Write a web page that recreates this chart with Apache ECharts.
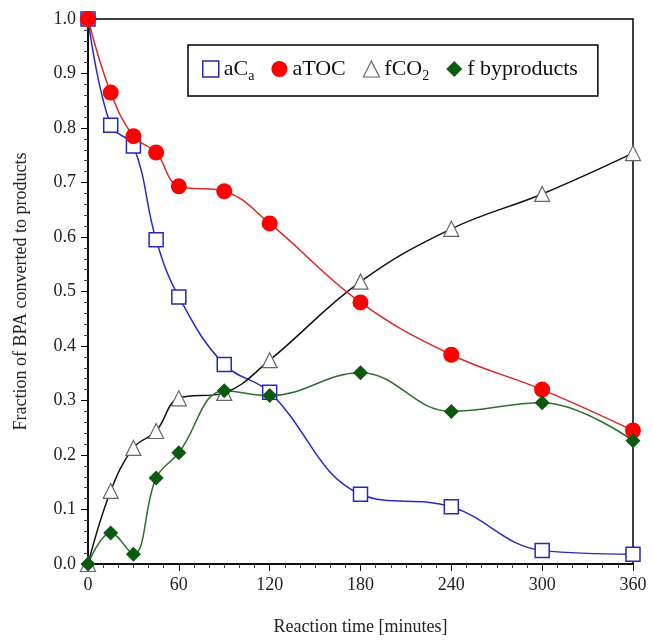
<!DOCTYPE html>
<html>
<head>
<meta charset="utf-8">
<script src="https://cdn.jsdelivr.net/npm/echarts@6/dist/echarts.min.js"></script>
<style>
  html, body { margin: 0; padding: 0; background: #fff; }
  #chart { width: 653px; height: 641px; }
</style>
</head>
<body>
<div id="chart"></div>
<script>
// reaction time, minutes
var times = [0, 15, 30, 45, 60, 90, 120, 180, 240, 300, 360];
var aCa = [1.0, 0.805, 0.767, 0.595, 0.49, 0.366, 0.315, 0.128, 0.105, 0.025, 0.018];
var aTOC = [1.0, 0.865, 0.785, 0.755, 0.693, 0.684, 0.625, 0.48, 0.384, 0.32, 0.245];
var fCO2 = [0.0, 0.134, 0.213, 0.244, 0.304, 0.314, 0.374, 0.518, 0.615, 0.679, 0.754];
var fByproducts = [0.0, 0.057, 0.018, 0.158, 0.204, 0.318, 0.309, 0.351, 0.28, 0.296, 0.226];

function pairs(ys) {
  return times.map(function (t, i) { return [t, ys[i]]; });
}

var font = '"Liberation Serif", "DejaVu Serif", serif';

var chart = echarts.init(document.getElementById('chart'));

chart.setOption({
  backgroundColor: '#fff',
  animation: false,
  grid: {
    left: 88,
    right: 20,
    top: 19,
    bottom: 74,
    show: true,
    borderColor: '#000',
    borderWidth: 1.5
  },
  legend: {
    left: 188,
    top: 45,
    padding: [13, 20, 13, 14],
    itemGap: 17,
    itemWidth: 16,
    itemHeight: 16,
    borderColor: '#000',
    borderWidth: 1.5,
    backgroundColor: '#fff',
    textStyle: {
      fontFamily: font,
      fontSize: 22,
      color: '#111',
      rich: {
        n: { fontFamily: font, fontSize: 22, color: '#111' },
        s: { fontFamily: font, fontSize: 14, color: '#111', verticalAlign: 'bottom', padding: [14, 0, 0, 0] }
      }
    },
    formatter: function (name) {
      if (name === 'aCa') return '{n|aC}{s|a}';
      if (name === 'fCO2') return '{n|fCO}{s|2}';
      return '{n|' + name + '}';
    },
    data: [
      { name: 'aCa', icon: 'rect', itemStyle: { color: '#fff', borderColor: '#2828b8', borderWidth: 1.5 } },
      { name: 'aTOC', icon: 'circle', itemStyle: { color: '#ff0000' } },
      { name: 'fCO2', icon: 'triangle', itemStyle: { color: '#fff', borderColor: '#666', borderWidth: 1.2 } },
      { name: 'f byproducts', icon: 'diamond', itemStyle: { color: '#0b5a10' } }
    ]
  },
  xAxis: {
    type: 'value',
    min: 0,
    max: 360,
    interval: 60,
    minorTick: { show: true, splitNumber: 6, length: 4, lineStyle: { color: '#444' } },
    axisLine: { onZero: false, lineStyle: { color: '#000', width: 1.5 } },
    axisTick: { show: true, length: 7, lineStyle: { color: '#000' } },
    axisLabel: { fontFamily: font, fontSize: 18, color: '#222', margin: 12 },
    splitLine: { show: false },
    name: 'Reaction time [minutes]',
    nameLocation: 'middle',
    nameGap: 54,
    nameTextStyle: { fontFamily: font, fontSize: 18, color: '#222' }
  },
  yAxis: {
    type: 'value',
    min: 0,
    max: 1,
    interval: 0.1,
    minorTick: { show: true, splitNumber: 5, length: 4, lineStyle: { color: '#444' } },
    axisLine: { onZero: false, lineStyle: { color: '#000', width: 1.5 } },
    axisTick: { show: true, length: 7, lineStyle: { color: '#000' } },
    axisLabel: {
      fontFamily: font, fontSize: 18, color: '#222', margin: 12,
      formatter: function (v) { return v.toFixed(1); }
    },
    splitLine: { show: false },
    name: 'Fraction of BPA converted to products',
    nameLocation: 'middle',
    nameGap: 58,
    nameTextStyle: { fontFamily: font, fontSize: 18, color: '#222' }
  },
  series: [
    {
      name: 'aCa',
      type: 'line',
      data: pairs(aCa),
      smooth: 0.4,
      symbol: 'rect',
      symbolSize: 14,
      lineStyle: { color: '#2a2ac0', width: 1.5 },
      itemStyle: { color: '#fff', borderColor: '#2828b8', borderWidth: 1.5 },
      z: 3
    },
    {
      name: 'aTOC',
      type: 'line',
      data: pairs(aTOC),
      smooth: 0.4,
      symbol: 'circle',
      symbolSize: 16,
      lineStyle: { color: '#d62a2a', width: 1.5 },
      itemStyle: { color: '#ff0000', borderWidth: 0 },
      z: 4
    },
    {
      name: 'fCO2',
      type: 'line',
      data: pairs(fCO2),
      smooth: 0.4,
      symbol: 'triangle',
      symbolSize: 15,
      lineStyle: { color: '#111', width: 1.5 },
      itemStyle: { color: '#fff', borderColor: '#666', borderWidth: 1.2 },
      z: 3
    },
    {
      name: 'f byproducts',
      type: 'line',
      data: pairs(fByproducts),
      smooth: 0.4,
      symbol: 'diamond',
      symbolSize: 15,
      lineStyle: { color: '#2e6e2e', width: 1.5 },
      itemStyle: { color: '#0b5a10', borderWidth: 0 },
      z: 4
    }
  ]
});
</script>
</body>
</html>
